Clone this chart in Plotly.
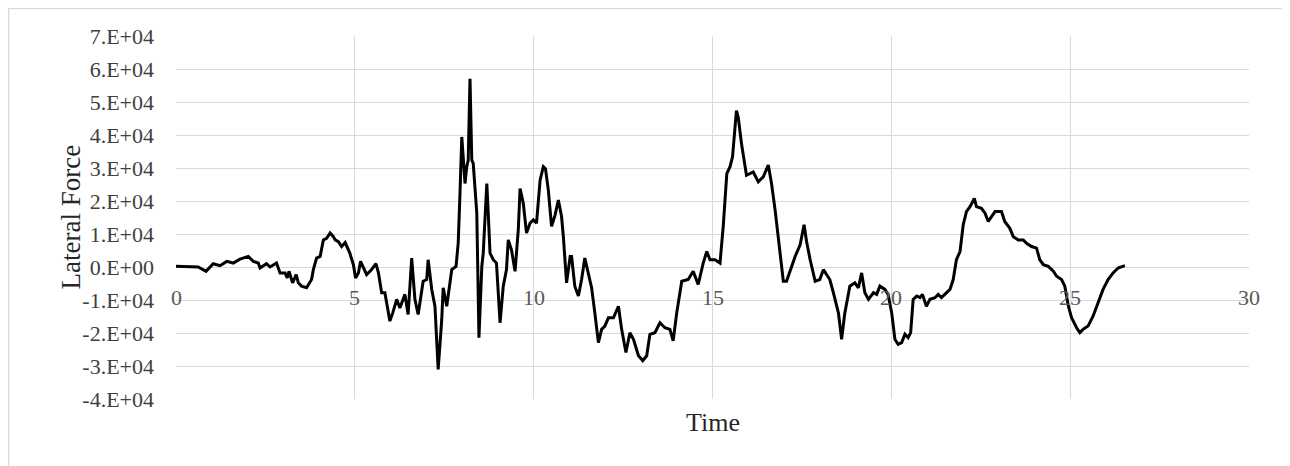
import plotly.graph_objects as go

# ---- data ----
time = [0.00, 0.30, 0.62, 0.84, 1.04, 1.23, 1.42, 1.60, 1.79, 2.02, 2.16, 2.30, 2.35, 2.53, 2.63,
        2.81, 2.91, 3.05, 3.11, 3.16, 3.26, 3.36, 3.42, 3.51, 3.65, 3.79, 3.84, 3.93, 4.03, 4.12,
        4.21, 4.31, 4.40, 4.45, 4.54, 4.63, 4.73, 4.86, 4.96, 5.02, 5.10, 5.16, 5.24, 5.33, 5.47,
        5.59, 5.66, 5.75, 5.84, 5.94, 5.98, 6.06, 6.17, 6.26, 6.40, 6.49, 6.59, 6.68, 6.77, 6.91,
        7.01, 7.05, 7.15, 7.24, 7.33, 7.43, 7.47, 7.57, 7.71, 7.83, 7.89, 7.94, 7.99, 8.03, 8.08,
        8.13, 8.17, 8.22, 8.27, 8.31, 8.41, 8.47, 8.55, 8.59, 8.64, 8.69, 8.73, 8.78, 8.87, 8.96,
        9.06, 9.15, 9.24, 9.29, 9.38, 9.48, 9.57, 9.62, 9.71, 9.80, 9.90, 9.99, 10.08, 10.18, 10.27,
        10.33, 10.41, 10.50, 10.60, 10.69, 10.78, 10.83, 10.92, 11.02, 11.06, 11.15, 11.25, 11.34, 11.43, 11.53,
        11.62, 11.71, 11.81, 11.90, 11.99, 12.09, 12.23, 12.37, 12.46, 12.58, 12.69, 12.79, 12.93, 13.05, 13.16,
        13.25, 13.39, 13.53, 13.67, 13.81, 13.90, 14.00, 14.14, 14.32, 14.46, 14.60, 14.74, 14.84, 14.93, 15.07,
        15.21, 15.30, 15.40, 15.49, 15.56, 15.63, 15.67, 15.72, 15.81, 15.95, 16.14, 16.28, 16.42, 16.56, 16.65,
        16.75, 16.89, 16.98, 17.07, 17.17, 17.31, 17.45, 17.56, 17.63, 17.73, 17.87, 18.00, 18.10, 18.28, 18.38,
        18.52, 18.61, 18.70, 18.84, 18.98, 19.08, 19.17, 19.26, 19.36, 19.50, 19.59, 19.68, 19.82, 19.91, 20.01,
        20.10, 20.19, 20.29, 20.38, 20.47, 20.54, 20.61, 20.71, 20.80, 20.87, 20.98, 21.08, 21.22, 21.31, 21.40,
        21.50, 21.64, 21.73, 21.82, 21.92, 22.01, 22.10, 22.20, 22.32, 22.38, 22.52, 22.62, 22.71, 22.80, 22.90,
        23.08, 23.17, 23.31, 23.41, 23.55, 23.69, 23.78, 23.92, 24.06, 24.15, 24.25, 24.39, 24.53, 24.62, 24.76,
        24.85, 24.95, 25.04, 25.18, 25.27, 25.36, 25.50, 25.64, 25.78, 25.92, 26.06, 26.20, 26.34, 26.53]

lateral_force = [200, 200, 0, -1300, 1000, 400, 1700, 1200, 2400, 3200, 1700, 1200, -300, 1000, 0,
                 1200, -1800, -1800, -3300, -1300, -4800, -2300, -4800, -5800, -6300, -3800, -800, 2700, 3200, 8200,
                 8700, 10300, 9200, 8200, 7700, 6200, 7400, 4200, 700, -3300, -1800, 1700, -300, -2300, -800,
                 1000, -1800, -7800, -7800, -13900, -16400, -13900, -9800, -12400, -8300, -14400, 2700, -9800, -14400, -4300,
                 -3800, 2200, -6800, -11900, -31000, -15900, -6300, -11900, -800, 200, 7200, 22300, 39400, 33400, 25300,
                 30400, 32400, 57000, 32400, 31400, 16300, -21400, 200, 4200, 17300, 25300, 16300, 4200, 2200, 1200,
                 -16900, -5800, -800, 8200, 5200, -1300, 11300, 23800, 19300, 10300, 13300, 14300, 13300, 26300, 30400,
                 29800, 23300, 12300, 15800, 20300, 15300, 9200, -4800, 3200, 3200, -5800, -8800, -3800, 2700, -1800,
                 -6300, -13900, -22900, -18900, -17900, -15400, -15400, -11900, -18900, -25900, -19900, -21900, -26900, -28400, -26900,
                 -20400, -19900, -16900, -18400, -18900, -22400, -13900, -4300, -3800, -1300, -5300, 1200, 4700, 2200, 2200,
                 1200, 12300, 28300, 30400, 33400, 42400, 47400, 45400, 37400, 27800, 28800, 25800, 27300, 30900, 25300,
                 17300, 4200, -4300, -4300, -1300, 3200, 6700, 12800, 7700, 2200, -4300, -3800, -800, -3800, -7800,
                 -13900, -21900, -13900, -5800, -4800, -6300, -1800, -7800, -9800, -7800, -8300, -5800, -6800, -8300, -13900,
                 -21900, -23400, -22900, -20400, -21400, -19900, -9800, -8800, -9300, -8300, -11900, -9800, -9300, -8300, -9300,
                 -8300, -6800, -3800, 2200, 4700, 12800, 16800, 18300, 20800, 18300, 17800, 16300, 13800, 15300, 16800,
                 16800, 13800, 11800, 9200, 8200, 8200, 7200, 6200, 5700, 2200, 700, 200, -1300, -2800, -3800,
                 -5800, -11900, -15400, -18400, -19900, -18900, -17900, -14900, -10900, -6800, -3800, -1800, -300, 400]

y_tick_values = [70000, 60000, 50000, 40000, 30000, 20000, 10000, 0, -10000, -20000, -30000, -40000]
y_tick_labels = ["7.E+04", "6.E+04", "5.E+04", "4.E+04", "3.E+04", "2.E+04", "1.E+04", "0.E+00",
                 "-1.E+04", "-2.E+04", "-3.E+04", "-4.E+04"]
x_tick_values = [0, 5, 10, 15, 20, 25, 30]
x_tick_labels = ["0", "5", "10", "15", "20", "25", "30"]

FONT = "Liberation Serif, Times New Roman, serif"
GRID = "#d9d9d9"

fig = go.Figure()
fig.add_trace(go.Scatter(x=time, y=lateral_force, mode="lines",
                         line=dict(color="#000000", width=3), showlegend=False,
                         hoverinfo="skip"))

fig.update_layout(
    width=1290, height=466,
    margin=dict(l=168, r=49, t=28, b=75),
    paper_bgcolor="white", plot_bgcolor="white",
    font=dict(family=FONT, size=22, color="#404040"),
    xaxis=dict(range=[0, 30], tickvals=x_tick_values, showticklabels=False,
               showgrid=True, gridcolor=GRID, gridwidth=1, zeroline=False,
               showline=False, fixedrange=True),
    yaxis=dict(range=[-40000, 70000], tickvals=y_tick_values, ticktext=y_tick_labels,
               showgrid=True, gridcolor=GRID, gridwidth=1, zeroline=False,
               showline=False, ticks="", ticklabelstandoff=21,
               tickfont=dict(family=FONT, size=22, color="#404040"), fixedrange=True),
)

# x tick labels sit next to the horizontal axis crossing at 0
for v, lab in zip(x_tick_values, x_tick_labels):
    fig.add_annotation(x=v, y=0, xref="x", yref="y", text=lab, showarrow=False,
                       yshift=-30, font=dict(family=FONT, size=22, color="#595959"))

fig.add_annotation(x=0.5, y=-0.066, xref="paper", yref="paper", text="Time",
                   showarrow=False, yanchor="middle",
                   font=dict(family=FONT, size=26, color="#262626"))
fig.add_annotation(x=-0.1146, y=0.5, xref="paper", yref="paper", text="Lateral Force",
                   showarrow=False, textangle=-90,
                   font=dict(family=FONT, size=27, color="#262626"))

# chart-area border
fig.add_shape(type="rect", xref="paper", yref="paper",
              x0=-0.1561, x1=1.0363, y0=-0.3, y1=1.0758,
              line=dict(color=GRID, width=1.5), fillcolor="rgba(0,0,0,0)", layer="below")

fig.write_html("out.html")
